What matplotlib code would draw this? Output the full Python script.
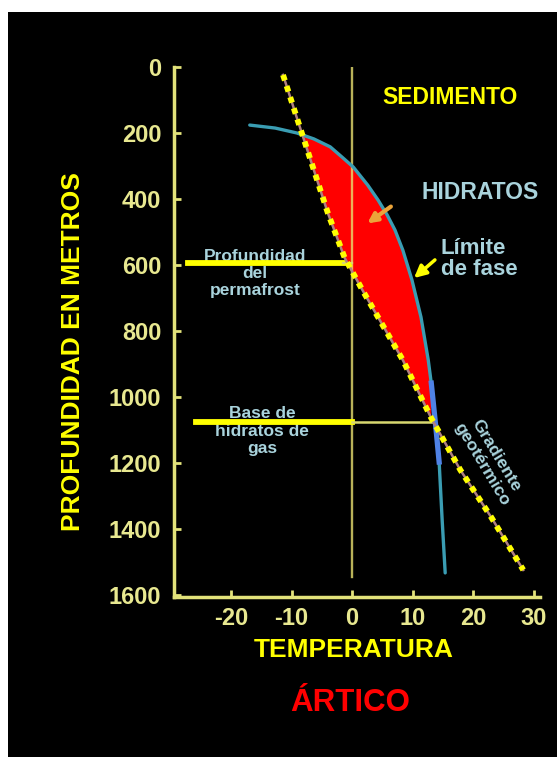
import numpy as np
import matplotlib
matplotlib.use('Agg')
from matplotlib import pyplot as plt
from matplotlib.patches import Rectangle

# eje de profundidad y temperatura
depth_ticks = [0, 200, 400, 600, 800, 1000, 1200, 1400, 1600]
temp_ticks = [-20, -10, 0, 10, 20, 30]

# limite de fase de los hidratos (temperatura, profundidad)
fase_temp = [-16.9, -12.7, -9.1, -6.3, -3.6, -1.65, 0.2, 2.6, 4.3, 5.8, 7.1, 8.4, 9.9, 11.4,
             12.6, 13.1, 13.9, 14.4, 14.9, 15.4]
fase_prof = [176, 185, 200, 218, 242, 273, 303, 358, 403, 448, 494, 555, 645, 758,
             888, 958, 1100, 1197, 1373, 1533]

# gradiente geotermico
geo_temp = [-11.4, -8.3, -4.0, -1.2, 2.0, 8.4, 13.1, 17.9, 23.0, 28.3]
geo_prof = [24, 200, 442, 579, 685, 888, 1064, 1221, 1364, 1524]

# profundidades de referencia
prof_permafrost = 595
prof_base_hidratos = 1076

fondo = 'black'
amarillo = '#ffff00'
eje_color = '#e2e27a'
celeste = '#a9d3dc'

plt.rcParams['axes.unicode_minus'] = False


def main():
    fig = plt.figure(figsize=(5.57, 7.57), dpi=100)
    fig.patch.set_facecolor('white')
    fig.patches.append(Rectangle((8 / 557, 0), 1, 1 - 12 / 757, transform=fig.transFigure,
                                 facecolor=fondo, edgecolor='none', zorder=-10))

    ax = fig.add_axes([174 / 557, 1 - 597 / 757, 366 / 557, 530 / 757])
    ax.set_facecolor(fondo)
    ax.set_xlim(-29.42, 31.07)
    ax.set_ylim(1606, 0)

    for s in ['top', 'right']:
        ax.spines[s].set_visible(False)
    for s in ['left', 'bottom']:
        ax.spines[s].set_color(eje_color)
        ax.spines[s].set_linewidth(2.5)

    ax.set_xticks(temp_ticks)
    ax.set_yticks(depth_ticks)
    ax.tick_params(axis='both', direction='in', length=5, width=2, color=eje_color,
                   labelcolor='#e8e890', labelsize=17)
    ax.tick_params(axis='y', pad=9)
    ax.tick_params(axis='x', pad=7)
    for lbl in ax.get_xticklabels() + ax.get_yticklabels():
        lbl.set_fontweight('bold')
        lbl.set_family('Liberation Sans')

    fase_t = np.array(fase_temp)
    fase_p = np.array(fase_prof)
    geo_t = np.array(geo_temp)
    geo_p = np.array(geo_prof)

    # zona de hidratos: entre el gradiente y el limite de fase
    p_top, p_bot = 200, 1064
    mg = (geo_p >= p_top) & (geo_p <= p_bot)
    mf = (fase_p >= p_top) & (fase_p < p_bot)
    poly_t = np.concatenate([geo_t[mg], fase_t[mf][::-1]])
    poly_p = np.concatenate([geo_p[mg], fase_p[mf][::-1]])
    ax.fill(poly_t, poly_p, color='#ff0000', zorder=2, linewidth=0)

    # linea de 0 grados, semitransparente para que se vea naranja sobre el rojo
    ax.plot([0, 0], [2, 1545], color='#e8e070', lw=1.7, alpha=0.8, zorder=3)

    # lineas horizontales
    ax.plot([-27.1, -1.5], [prof_permafrost, prof_permafrost], color=amarillo, lw=4.2, zorder=4)
    ax.plot([-1.5, 0], [prof_permafrost, prof_permafrost], color='#d8d870', lw=1.6, zorder=4)
    ax.plot([-25.8, 0], [prof_base_hidratos, prof_base_hidratos], color=amarillo, lw=4.2, zorder=4)
    ax.plot([0, 13.2], [prof_base_hidratos, prof_base_hidratos], color='#d8d870', lw=1.8, zorder=4)

    # limite de fase
    ax.plot(fase_t, fase_p, color='#3a9db3', lw=2.4, zorder=5, solid_capstyle='round',
            solid_joinstyle='round')
    mb = (fase_p >= 950) & (fase_p <= 1200)
    ax.plot(fase_t[mb], fase_p[mb], color='#4f82e6', lw=3.8, zorder=6)

    # gradiente geotermico punteado
    ax.plot(geo_t, geo_p, color='#b08080', lw=1.8, zorder=7)
    ax.plot(geo_t, geo_p, color=amarillo, lw=4.2, linestyle=(0, (1.0, 1.0)),
            dash_capstyle='butt', zorder=8)

    # flechas
    ax.annotate('', xy=(2.15, 479), xytext=(6.8, 418),
                arrowprops=dict(arrowstyle='-|>', color='#eba43a', lw=3, mutation_scale=14),
                zorder=9)
    ax.annotate('', xy=(9.9, 645), xytext=(14.05, 579),
                arrowprops=dict(arrowstyle='-|>', color=amarillo, lw=2.5, mutation_scale=18),
                zorder=9)

    fam = 'Liberation Sans'
    ax.text(16.2, 91, 'SEDIMENTO', color=amarillo, fontsize=16.5, fontweight='bold',
            family=fam, ha='center', va='center')
    ax.text(21.2, 379, 'HIDRATOS', color=celeste, fontsize=16.5, fontweight='bold',
            family=fam, ha='center', va='center')
    ax.text(14.7, 582, 'Límite\nde fase', color=celeste, fontsize=16, fontweight='bold',
            family=fam, ha='left', va='center', linespacing=1.05)
    ax.text(-16.0, 626, 'Profundidad\ndel\npermafrost', color=celeste, fontsize=12.5,
            fontweight='bold', family=fam, ha='center', va='center', linespacing=1.2)
    ax.text(-14.9, 1103, 'Base de\nhidratos de\ngas', color=celeste, fontsize=12.5,
            fontweight='bold', family=fam, ha='center', va='center', linespacing=1.2)
    ax.text(22.6, 1190, 'Gradiente\ngeotérmico', color=celeste, fontsize=12.5,
            fontweight='bold', family=fam, ha='center', va='center', rotation=-59,
            rotation_mode='anchor', linespacing=1.1)

    fig.text(73 / 557, 1 - 352 / 757, 'PROFUNDIDAD EN METROS', color=amarillo, fontsize=19,
             fontweight='bold', family=fam, rotation=90, ha='center', va='center')
    fig.text(354 / 557, 1 - 650 / 757, 'TEMPERATURA', color=amarillo, fontsize=19,
             fontweight='bold', family=fam, ha='center', va='center')
    fig.text(350 / 557, 1 - 703 / 757, 'ÁRTICO', color='#ff0000', fontsize=22.5,
             fontweight='bold', family=fam, ha='center', va='center')

    fig.savefig('out.png', dpi=100, facecolor=fig.get_facecolor())


if __name__ == "__main__":
    main()
